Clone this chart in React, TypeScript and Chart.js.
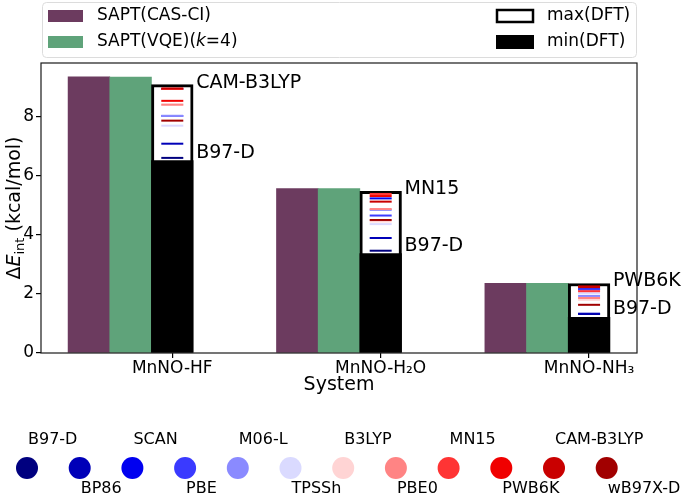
import React, { useEffect, useRef } from 'react';
import { Chart, registerables } from 'chart.js';

Chart.register(...registerables);

// ---------- data ----------
const systems = ['MnNO-HF', 'MnNO-H₂O', 'MnNO-NH₃'];
const saptCasCi = [9.34, 5.56, 2.36];
const saptVqe = [9.33, 5.56, 2.36];
const maxDft = [9.08, 5.47, 2.35];
const minDft = [6.51, 3.36, 1.21];

const functionals = ['B97-D', 'BP86', 'SCAN', 'PBE', 'M06-L', 'TPSSh', 'B3LYP', 'PBE0', 'MN15', 'PWB6K', 'CAM-B3LYP', 'wB97X-D'];
const functionalColors = ['#00007f', '#0000b8', '#0000f0', '#3a3aff', '#8a8aff', '#dadaff', '#ffd4d4', '#ff8484', '#ff3434', '#f00000', '#c90000', '#a10000'];
// values per system, in the order of `functionals`
const dftHF = [6.6, 7.08, 8.93, 8.02, 8.02, 7.69, 8.4, 8.4, 8.93, 8.53, 8.95, 7.86];
const dftH2O = [3.46, 3.89, 5.23, 4.65, 4.84, 4.36, 4.45, 4.87, 5.38, 5.31, 5.12, 4.5];
const dftNH3 = [1.32, 1.33, 2.16, 2.15, 1.93, 2.02, 1.8, 1.86, 2.09, 2.25, 2.23, 1.63];
const dftBySystem = [dftHF, dftH2O, dftNH3];
const maxLabels = ['CAM-B3LYP', 'MN15', 'PWB6K'];
const minLabels = ['B97-D', 'B97-D', 'B97-D'];
const yTicks = [0, 2, 4, 6, 8];

// ---------- style ----------
const FONT = '"DejaVu Sans", sans-serif';
const PURPLE = '#6c3b5f';
const GREEN = '#5fa37a';
const BAR_W = 0.2;

const decor = {
  id: 'decor',
  afterDatasetsDraw(chart: any) {
    const { ctx, chartArea: a, scales } = chart;
    const x = scales.x;
    const y = scales.y;
    ctx.save();
    ctx.strokeStyle = '#1a1a1a';
    ctx.lineWidth = 1.2;
    ctx.strokeRect(a.left, a.top, a.right - a.left, a.bottom - a.top);

    ctx.fillStyle = '#000';
    ctx.font = `19px ${FONT}`;
    ctx.textAlign = 'left';
    ctx.textBaseline = 'alphabetic';
    systems.forEach((_, i) => {
      const tx = x.getPixelForValue(i + BAR_W / 2) + 3;
      const vMax = dftBySystem[i][functionals.indexOf(maxLabels[i])];
      const vMin = dftBySystem[i][functionals.indexOf(minLabels[i])];
      ctx.fillText(maxLabels[i], tx, y.getPixelForValue(vMax));
      ctx.fillText(minLabels[i], tx, y.getPixelForValue(vMin));
    });
    ctx.restore();
  },
  afterDraw(chart: any) {
    const { ctx, chartArea: a } = chart;
    ctx.save();

    // ----- y-axis title -----
    ctx.translate(13, (a.top + a.bottom) / 2);
    ctx.rotate(-Math.PI / 2);
    ctx.fillStyle = '#000';
    ctx.textBaseline = 'alphabetic';
    ctx.textAlign = 'left';
    const parts = [
      { t: 'Δ', f: `19px ${FONT}`, dy: 0 },
      { t: 'E', f: `italic 19px ${FONT}`, dy: 0 },
      { t: 'int', f: `13px ${FONT}`, dy: 4 },
      { t: ' (kcal/mol)', f: `19px ${FONT}`, dy: 0 },
    ];
    let total = 0;
    parts.forEach((p) => { ctx.font = p.f; total += ctx.measureText(p.t).width; });
    let cx = -total / 2;
    parts.forEach((p) => {
      ctx.font = p.f;
      ctx.fillText(p.t, cx, 7 + p.dy);
      cx += ctx.measureText(p.t).width;
    });
    ctx.setTransform(1, 0, 0, 1, 0, 0);

    // ----- top legend -----
    const lx = a.left + 1.5;
    const lw = a.right - a.left - 2;
    ctx.beginPath();
    ctx.roundRect(lx, 2.5, lw, 55, 4);
    ctx.fillStyle = 'rgba(255,255,255,0.85)';
    ctx.fill();
    ctx.strokeStyle = '#dcdcdc';
    ctx.lineWidth = 1;
    ctx.stroke();

    const rows = [16, 42];
    ctx.textBaseline = 'middle';
    ctx.textAlign = 'left';
    // left column
    ctx.fillStyle = PURPLE;
    ctx.fillRect(a.left + 7, rows[0] - 6, 35, 12);
    ctx.fillStyle = GREEN;
    ctx.fillRect(a.left + 7, rows[1] - 6, 35, 12);
    ctx.fillStyle = '#000';
    ctx.font = `17px ${FONT}`;
    ctx.fillText('SAPT(CAS-CI)', a.left + 56, rows[0]);
    const segs = [
      { t: 'SAPT(VQE)(', f: `17px ${FONT}` },
      { t: 'k', f: `italic 17px ${FONT}` },
      { t: '=4)', f: `17px ${FONT}` },
    ];
    let sx = a.left + 56;
    segs.forEach((s) => {
      ctx.font = s.f;
      ctx.fillText(s.t, sx, rows[1]);
      sx += ctx.measureText(s.t).width;
    });
    // right column
    const rx = a.right - 140;
    ctx.fillStyle = '#fff';
    ctx.fillRect(rx, rows[0] - 6, 36, 12);
    ctx.strokeStyle = '#000';
    ctx.lineWidth = 2.5;
    ctx.strokeRect(rx, rows[0] - 6, 36, 12);
    ctx.fillStyle = '#000';
    ctx.fillRect(rx - 1, rows[1] - 7, 38, 14);
    ctx.font = `17px ${FONT}`;
    ctx.fillText('max(DFT)', a.right - 90, rows[0]);
    ctx.fillText('min(DFT)', a.right - 90, rows[1]);

    // ----- functional colour key -----
    const dotX0 = 27;
    const dotDX = 52.7;
    const dotY = 468;
    ctx.font = `16px ${FONT}`;
    functionals.forEach((name, i) => {
      const dx = dotX0 + i * dotDX;
      ctx.beginPath();
      ctx.arc(dx, dotY, 11, 0, Math.PI * 2);
      ctx.fillStyle = functionalColors[i];
      ctx.fill();
      ctx.fillStyle = '#000';
      ctx.fillText(name, dx + 1, i % 2 === 0 ? 440 : 489);
    });

    ctx.restore();
  },
};

export default function App() {
  const ref = useRef<HTMLCanvasElement | null>(null);

  useEffect(() => {
    document.body.style.margin = '0';
    if (!ref.current) return;

    const barDatasets = [
      {
        label: 'SAPT(CAS-CI)',
        data: saptCasCi.map((v, i) => ({ x: i - 2 * BAR_W, y: v })),
        backgroundColor: PURPLE,
        borderWidth: 0,
        order: 100,
      },
      {
        label: 'SAPT(VQE)(k=4)',
        data: saptVqe.map((v, i) => ({ x: i - BAR_W, y: v })),
        backgroundColor: GREEN,
        borderWidth: 0,
        order: 99,
      },
      {
        label: 'max(DFT)',
        data: maxDft.map((v, i) => ({ x: i, y: v })),
        backgroundColor: '#ffffff',
        borderColor: '#000000',
        borderWidth: 3,
        borderSkipped: false,
        order: 98,
      },
      {
        label: 'min(DFT)',
        data: minDft.map((v, i) => ({ x: i, y: v })),
        backgroundColor: '#000000',
        borderWidth: 0,
        order: 97,
      },
    ];

    const lineDatasets = functionals.map((name, fi) => ({
      type: 'line' as const,
      label: name,
      data: systems.map((_, si) => ({ x: si, y: dftBySystem[si][fi] })),
      showLine: false,
      pointStyle: 'line',
      pointRadius: 11,
      pointHoverRadius: 11,
      borderWidth: 2,
      pointBorderWidth: 2,
      borderColor: functionalColors[fi],
      pointBorderColor: functionalColors[fi],
      pointBackgroundColor: functionalColors[fi],
      order: 50 - fi,
    }));

    const chart = new Chart(ref.current, {
      type: 'bar',
      data: { datasets: [...barDatasets, ...lineDatasets] as any },
      plugins: [decor],
      options: {
        responsive: false,
        animation: false,
        devicePixelRatio: 1,
        events: [],
        layout: { padding: { left: 0, top: 63, right: 49, bottom: 97 } },
        datasets: {
          bar: { grouped: false, categoryPercentage: 1, barPercentage: 1 } as any,
        },
        plugins: { legend: { display: false }, tooltip: { enabled: false } },
        scales: {
          x: {
            type: 'linear',
            offset: false,
            min: -0.63,
            max: 2.23,
            afterBuildTicks: (axis: any) => {
              axis.ticks = systems.map((_, i) => ({ value: i }));
            },
            afterFit: (axis: any) => { axis.height = 47; },
            ticks: {
              autoSkip: false,
              maxRotation: 0,
              padding: 0,
              color: '#000',
              font: { family: FONT, size: 17 },
              callback: (v: any) => systems[v] ?? '',
            },
            grid: { offset: false, drawOnChartArea: false, drawTicks: true, tickLength: 5, color: '#000', lineWidth: 1.2 },
            border: { display: false },
            title: {
              display: true,
              text: 'System',
              color: '#000',
              font: { family: FONT, size: 19 },
              padding: { top: 4, bottom: 4 },
            },
          },
          y: {
            type: 'linear',
            min: 0,
            max: 9.81,
            afterBuildTicks: (axis: any) => {
              axis.ticks = yTicks.map((v) => ({ value: v }));
            },
            afterFit: (axis: any) => { axis.width = 41; },
            ticks: {
              padding: 2,
              color: '#000',
              font: { family: FONT, size: 17 },
            },
            grid: { drawOnChartArea: false, drawTicks: true, tickLength: 5, color: '#000', lineWidth: 1.2 },
            border: { display: false },
          },
        },
      },
    });

    return () => chart.destroy();
  }, []);

  return <canvas ref={ref} width={686} height={497} style={{ display: 'block' }} />;
}
